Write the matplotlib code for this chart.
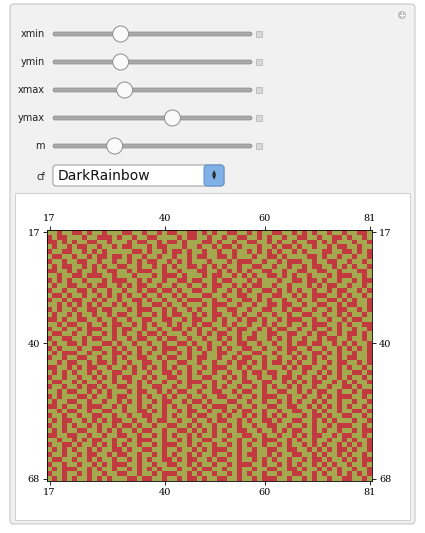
import numpy as np
import matplotlib.pyplot as plt
from matplotlib.patches import FancyBboxPatch, Rectangle, Circle
from matplotlib.colors import ListedColormap

# slider controls
slider_names = ["xmin", "ymin", "xmax", "ymax", "m"]
slider_pos = [0.34, 0.34, 0.36, 0.60, 0.31]   # fraction along the track
colour_fn = "DarkRainbow"

x_first, x_last = 17, 81
y_first, y_last = 17, 68
x_ticks = [17, 40, 60, 81]
y_ticks = [17, 40, 68]

# cell values, '#' = red, '.' = olive
rows = """
..#.. ##.#. .#... ##..# ..#.# #..## .#.#. .##.. #.#.. ##..# .#.#. .#..# ..##.
#.##. ..#.. ###.# ..#.. ##... .#.## ..#.. #..## ..#.# ..#.. ##..# ..##. #..#.
##.#. #..## ..#.. .#.## ..#.# #.#.. .##.# ..#.. ##..# .#..# ..##. #.#.. .#..#
.#..# .##.. #..#. ##... #.##. ..#.. #..#. ##.#. ..#.. #.##. #..#. .#.## ..#..
#..## ..#.# .#... ..##. #..#. ##.#. .#..# ..#.. #.#.# .#..# .#... ##..# #.#.#
.##.. #..#. ##.## .#..# ..#.. #..#. ##..# #.#.. .#..# #.#.. ..##. #..#. .#..#
#..#. .##.. #..#. .#.#. ##..# .#.#. ..#.. .#.## #..#. .#.## #..#. .##.. #..#.
.#.## ..#.# .#..# #..#. .#.#. #..## .#.#. #..#. .##.. #..#. .#.## ..#.# .#..#
##..# .#..# ..##. .#.## #..#. .#... ##..# .#.#. #..## ..#.. ##..# #..#. ..##.
..#.. ##.## #..#. ..#.. .#.## #.#.. .#.## ..#.# .#..# #.#.# ..#.. .#.## #..#.
#.#.# ..#.. .#.## #..#. #..#. .##.# #..#. ##... #.#.. .#..# #.##. #..#. .#.##
.#..# #..#. ##..# .#.## ..#.. #..#. .#.## ..#.# .##.. #..#. ..#.# .##.. #..#.
#..#. .##.# ..#.. #..#. ##.## .#..# #..#. .#.#. #..## .#.#. #..#. .#.## ..#.#
.##.# ..#.. #.#.# .#..# ..#.. #.#.. .##.. #..## ..#.. ##..# .#.## #..#. #..#.
#..#. ##..# .#..# ..##. #..#. .#.## #..#. .#..# #.#.# ..#.. #..#. .##.# .#..#
..#.# .#.#. #..#. #..#. .##.# ..#.. .#.## #..#. .#..# #.##. .#..# #..#. ##..#
#.#.. #..## .##.. .#.## #..#. #..#. #..#. .##.. #..## ..#.# #..#. .#.## ..#.#
.#..# .#..# ..#.# #..#. .#.#. ##..# .#.## ..#.# ..#.. #..#. .##.. #..#. #..#.
##.#. .##.. #..#. .#..# #..## ..#.# #..#. #..#. ##.#. .#.## #..#. .#..# .##..
..#.# #..#. .#.## ..#.# .#..# .#..# .##.. #.#.. #..#. #..#. .#.## #..#. #..##
#..#. .#.## #..#. ##..# ..#.. ##.#. #..#. .#.## ..#.# .##.. #..#. .#.#. .#..#
.##.. #..#. .#.#. #..#. ##.#. ..#.. #.#.# #..#. .#..# #..## ..#.# #..#. ##.#.
#..## ..#.# #..#. .#.## ..#.# #..#. .#..# .#.#. ##..# .#.#. .#..# .##.. #..#.
.#..# #.#.. .##.# ..#.. #..#. .##.# ..#.. #..## ..#.. #..#. ##.## ..#.# .#..#
#.#.. .#..# #..#. #..#. .#.## #..#. #.#.# .#..# #..#. .#.## ..#.. #..#. #.#.#
.#.## #..#. .#.## .#.#. #..#. .#.#. .#..# #..#. .##.. #..#. #..## .#.#. .#..#
#..#. .##.. #..#. #..## ..#.# #..#. ##..# ..#.# #..#. .#..# .#.#. #..#. ##..#
..#.# #..#. ##.#. .#..# #..#. .##.. #..#. .#.## .#.#. ##.#. #..#. .#.## ..#.#
##..# .#.## ..#.. #.#.# .#.#. #..#. .#.## #..#. #..#. ..#.# .##.. #..#. #..#.
.#.#. #..#. #..## ..#.. #..## .#.#. #..#. .#..# .##.# #..#. .#..# .#.#. .##.#
#..#. .#..# .#.#. ##..# .#..# #..#. .##.. #.#.# ..#.. #.##. #..#. #..#. #..#.
.##.. #.#.. #..#. .#.#. #..#. .#.## #..#. .#..# #..## ..#.# .#.## ..#.# .#..#
#..#. .#.## .#..# #..#. .##.. #..#. .#.#. #..#. .#.#. #..#. #..#. .#..# #.#..
..#.# #..#. #.#.. .#.## ..#.# .##.. #..## ..#.# #..#. .##.. #.#.# #..#. .#.##
#.#.. .##.# ..#.# #..#. #..#. #..#. .#..# #..#. .#.## #..#. .#..# .#.## #..#.
.#..# #..#. .#..# .#.#. .#.## ..#.# #.#.. .##.. #..#. .#.#. #..#. #..#. .#..#
##.#. .#.## #..#. #..#. #..#. #..#. .#.## #..#. .#..# #..## ..#.# .#.#. #..#.
..#.# #..#. .##.. #..## .#.#. .#.## ..#.. #.#.# #..#. .#..# #..#. #..#. .##.#
#..#. .#..# #..#. .#..# #..#. #..#. ##..# .#..# .#.#. #.#.. .#.## .#..# #..#.
.#.## ..#.# .#.## ..#.. #.##. .#..# ..#.# #..#. #..## .#..# #..#. #.#.. .#..#
#..#. #..#. #..#. ##.#. .#..# #..#. #..#. .#.#. .#..# #..#. .#.#. .#.## #..#.
.#.#. .##.. #.#.# ..#.# #..#. .##.# .#.#. #..## ..#.. #.#.# #..#. #..#. .#.##
##..# #..#. .#..# #..#. .#.#. #..#. #..#. .#..# #..#. .#..# .#.## ..#.# #..#.
..#.. #.#.# #..#. .#.## #..#. .#.#. .##.. #..#. .#.## #..#. #..#. .#..# .#..#
#..## .#..# .#.#. #..#. .#.## #..#. #..#. .#.#. #..#. .#.#. .#.#. #..#. #.#.#
.#.#. #..#. #..## .#..# #..#. .#..# .#.## #..#. .#..# #..## ..#.# .#.## .#..#
#..#. .#.## ..#.# #..#. .#.#. #..#. #..#. .#.#. ##..# .#..# #..#. #..#. #..#.
.##.. #..#. #..#. .#.#. #..## .#.## ..#.# #..#. .#.#. #..#. .#.## .#..# .#.##
#..#. .#..# .#.## #..#. .#..# #..#. #..#. .#.## #..#. .#.#. #..#. #.#.. #..#.
.#.## #..#. #..#. .#.#. #.#.. .#..# .##.. #..#. .#..# #..## .#..# .#.#. .#..#
#..#. .#.#. .#..# #..#. .#.## #..#. #..#. .#.#. #..#. .#..# #..#. #..#. #.#.#
.#.#. #..#. #.#.. .##.# #..#. .#.## .#..# #..#. .#.## #..#. .#.#. .#..# #..#.
"""
grid = np.array([[1 if c == "#" else 0 for c in r.replace(" ", "")]
                 for r in rows.strip().splitlines()])

fig = plt.figure(figsize=(4.25, 5.33), dpi=100)
W, H = 425, 533
bg = fig.add_axes([0, 0, 1, 1])
bg.set_xlim(0, W)
bg.set_ylim(H, 0)
bg.axis("off")

bg.add_patch(FancyBboxPatch((10, 4), 405, 520, boxstyle="round,pad=0,rounding_size=4",
                            fc="#f1f1f1", ec="#c8c8c8", lw=0.8))
bg.add_patch(Circle((402, 15), 4, fc="#bdbdbd", ec="none"))
bg.text(402, 15.5, "+", color="white", fontsize=6, ha="center", va="center", weight="bold")

track_x0, track_x1 = 53, 252
for i, (name, pos) in enumerate(zip(slider_names, slider_pos)):
    y = 34 + i * 28
    bg.text(45, y, name, fontsize=7, ha="right", va="center", color="#222222")
    bg.add_patch(FancyBboxPatch((track_x0, y - 2), track_x1 - track_x0, 4,
                                boxstyle="round,pad=0,rounding_size=2",
                                fc="#a9a9a9", ec="#8a8a8a", lw=0.5))
    tx = track_x0 + pos * (track_x1 - track_x0)
    bg.add_patch(Circle((tx, y), 8, fc="#fafafa", ec="#8c8c8c", lw=0.7))
    bg.add_patch(Rectangle((256, y - 3), 6, 6, fc="#d8d8d8", ec="#b0b0b0", lw=0.5))

bg.text(45, 177, "cf", fontsize=7, ha="right", va="center", color="#222222")
bg.add_patch(FancyBboxPatch((53, 165), 171, 21, boxstyle="round,pad=0,rounding_size=3",
                            fc="white", ec="#9a9a9a", lw=0.7))
bg.add_patch(FancyBboxPatch((204, 165), 20, 21, boxstyle="round,pad=0,rounding_size=3",
                            fc="#7fb0e6", ec="#5d8fc8", lw=0.7))
bg.text(214, 175.5, "\u25b2\n\u25bc", fontsize=4, ha="center", va="center", color="#222222",
        linespacing=0.9)
bg.text(58, 175.5, colour_fn, fontsize=10, ha="left", va="center", color="#111111")

bg.add_patch(Rectangle((15, 193), 395, 327, fc="white", ec="#cfcfcf", lw=0.7))

ax = fig.add_axes([47 / W, 1 - 481 / H, 325 / W, 251 / H])
cmap = ListedColormap(["#a4a84e", "#c23a40"])
ax.imshow(grid, cmap=cmap, aspect="auto", interpolation="nearest",
          extent=(x_first - 0.5, x_last + 0.5, y_last + 0.5, y_first - 0.5))
ax.set_xticks(x_ticks)
ax.set_yticks(y_ticks)
ax.tick_params(top=True, right=True, labeltop=True, labelright=True,
               labelsize=7, length=3, direction="out", width=0.6, pad=2)
for lab in ax.get_xticklabels() + ax.get_yticklabels():
    lab.set_family("DejaVu Serif")
for s in ax.spines.values():
    s.set_linewidth(0.6)

fig.savefig("out.png", dpi=100)
